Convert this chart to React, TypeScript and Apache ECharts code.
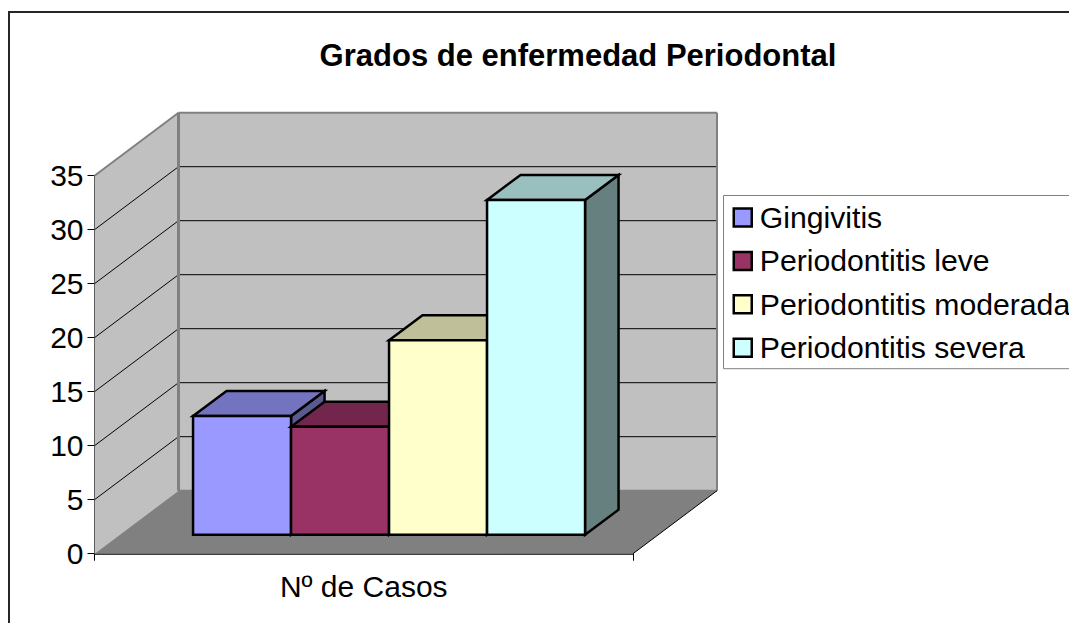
import React, { useEffect, useRef } from "react";
import * as echarts from "echarts";

const titleText = "Grados de enfermedad Periodontal";
const categories = ["Nº de Casos"];
const seriesNames = ["Gingivitis", "Periodontitis leve", "Periodontitis moderada", "Periodontitis severa"];
const seriesValues = [11, 10, 18, 31];
const faceColors = ["#9999FF", "#993366", "#FFFFCC", "#CCFFFF"];
const topColors = ["#7373BF", "#73264D", "#BFBF99", "#99BFBF"];
const sideColors = ["#5A5A90", "#4D1A33", "#808066", "#668080"];
const tickValues = [0, 5, 10, 15, 20, 25, 30, 35];

const FONT = "'Liberation Sans', Arial, sans-serif";
const WALL_DX = 84;
const WALL_DY = -63;
const BAR_SHIFT_X = 25.3;
const BAR_SHIFT_Y = -19;
const BAR_DX = 33.5;
const BAR_DY = -25;
const BAR_BAND_RATIO = 98 / 538.5;

const poly = (points: number[][], fill: string, stroke: string, lineWidth: number) => ({
  type: "polygon",
  shape: { points },
  style: { fill, stroke, lineWidth, lineJoin: "miter" },
});
const seg = (a: number[], b: number[], stroke: string, lineWidth: number) => ({
  type: "line",
  shape: { x1: a[0], y1: a[1], x2: b[0], y2: b[1] },
  style: { stroke, lineWidth, fill: "none" },
});

const renderWalls = (_: any, api: any) => {
  const size = api.size([1, 0]);
  const [x0, y0] = api.coord([0, 0]);
  const xL = x0 - size[0] / 2;
  const xR = x0 + size[0] / 2;
  const yTop = api.coord([0, 35])[1];
  const children: any[] = [];
  // side wall
  children.push(poly([[xL, y0], [xL + WALL_DX, y0 + WALL_DY], [xL + WALL_DX, yTop + WALL_DY], [xL, yTop]], "#C0C0C0", "none", 0));
  // back wall
  children.push(poly([[xL + WALL_DX, y0 + WALL_DY], [xR + WALL_DX, y0 + WALL_DY], [xR + WALL_DX, yTop + WALL_DY], [xL + WALL_DX, yTop + WALL_DY]], "#C0C0C0", "none", 0));
  // floor
  children.push(poly([[xL, y0], [xR, y0], [xR + WALL_DX, y0 + WALL_DY], [xL + WALL_DX, y0 + WALL_DY]], "#808080", "none", 0));
  // grid lines
  tickValues.forEach((t) => {
    if (t === 0 || t === 35) return;
    const y = api.coord([0, t])[1];
    children.push(seg([xL, y], [xL + WALL_DX, y + WALL_DY], "#000", 1));
    children.push(seg([xL + WALL_DX, y + WALL_DY], [xR + WALL_DX, y + WALL_DY], "#000", 1));
  });
  // wall edges
  children.push(seg([xL, yTop], [xL + WALL_DX, yTop + WALL_DY], "#808080", 2));
  children.push(seg([xL + WALL_DX, yTop + WALL_DY], [xR + WALL_DX, yTop + WALL_DY], "#808080", 2));
  children.push(seg([xL + WALL_DX, yTop + WALL_DY], [xL + WALL_DX, y0 + WALL_DY], "#808080", 3));
  children.push(seg([xR + WALL_DX, yTop + WALL_DY], [xR + WALL_DX, y0 + WALL_DY], "#808080", 2));
  children.push(seg([xL + WALL_DX, y0 + WALL_DY], [xR + WALL_DX, y0 + WALL_DY], "#808080", 2));
  children.push(seg([xR, y0], [xR + WALL_DX, y0 + WALL_DY], "#000", 1));
  return { type: "group", children };
};

const renderBar = (params: any, api: any) => {
  const i = params.seriesIndex - 1;
  const band = api.size([1, 0])[0];
  const w = band * BAR_BAND_RATIO;
  const [cx, yVal] = api.coord([0, api.value(1)]);
  const y0 = api.coord([0, 0])[1];
  const left = cx - (w * seriesNames.length) / 2 + i * w + BAR_SHIFT_X;
  const right = left + w;
  const bottom = y0 + BAR_SHIFT_Y;
  const top = yVal + BAR_SHIFT_Y;
  return {
    type: "group",
    children: [
      poly([[right, bottom], [right + BAR_DX, bottom + BAR_DY], [right + BAR_DX, top + BAR_DY], [right, top]], sideColors[i], "#000", 2.5),
      poly([[left, top], [right, top], [right + BAR_DX, top + BAR_DY], [left + BAR_DX, top + BAR_DY]], topColors[i], "#000", 2.5),
      poly([[left, bottom], [right, bottom], [right, top], [left, top]], faceColors[i], "#000", 2.5),
    ],
  };
};

export default function App() {
  const ref = useRef<HTMLDivElement>(null);
  useEffect(() => {
    const chart = echarts.init(ref.current!, null, { renderer: "svg" });
    chart.setOption({
      animation: false,
      backgroundColor: "#fff",
      textStyle: { fontFamily: FONT },
      title: {
        text: titleText,
        left: 573,
        top: 35,
        textAlign: "center",
        textStyle: { fontFamily: FONT, fontSize: 31, fontWeight: "bold", color: "#000" },
      },
      grid: { left: 94.5, top: 175.7, width: 538.5, height: 378, containLabel: false },
      xAxis: {
        type: "category",
        data: categories,
        axisLine: { show: true, lineStyle: { color: "#000", width: 1.5 } },
        axisTick: { show: true, length: 7, lineStyle: { color: "#000" } },
        axisLabel: { color: "#000", fontSize: 30, fontFamily: FONT, margin: 18 },
      },
      yAxis: {
        type: "value",
        min: 0,
        max: 35,
        interval: 5,
        axisLine: { show: true, lineStyle: { color: "#000", width: 1 } },
        axisTick: { show: true, length: 7, lineStyle: { color: "#000" } },
        axisLabel: { color: "#000", fontSize: 30, fontFamily: FONT, margin: 11 },
        splitLine: { show: false },
      },
      legend: {
        orient: "vertical",
        left: 723.5,
        top: 195.5,
        padding: [7, 10, 6, 9],
        itemGap: 13.4,
        itemWidth: 18,
        itemHeight: 18,
        backgroundColor: "#fff",
        borderColor: "#808080",
        borderWidth: 1,
        borderRadius: 0,
        align: "left",
        textStyle: { fontFamily: FONT, fontSize: 30.2, color: "#000", padding: [0, 0, 0, 3] },
        data: seriesNames.map((name, i) => ({
          name,
          icon: "rect",
          itemStyle: { color: faceColors[i], borderColor: "#000", borderWidth: 2.5 },
        })),
      },
      graphic: [
        {
          type: "rect",
          z: -1,
          shape: { x: 9, y: 12, width: 1200, height: 800 },
          style: { fill: "none", stroke: "#262626", lineWidth: 2 },
        },
      ],
      series: [
        {
          type: "custom",
          name: "walls",
          z: 1,
          silent: true,
          renderItem: renderWalls,
          data: [[0, 0]],
          encode: { x: 0, y: 1 },
        },
        ...seriesNames.map((name, i) => ({
          type: "custom",
          name,
          z: 2 + i,
          renderItem: renderBar,
          data: [[0, seriesValues[i]]],
          encode: { x: 0, y: 1 },
          itemStyle: { color: faceColors[i] },
        })),
      ],
    });
    return () => chart.dispose();
  }, []);
  return <div ref={ref} style={{ position: "absolute", left: 0, top: 0, width: 1069, height: 623 }} />;
}
